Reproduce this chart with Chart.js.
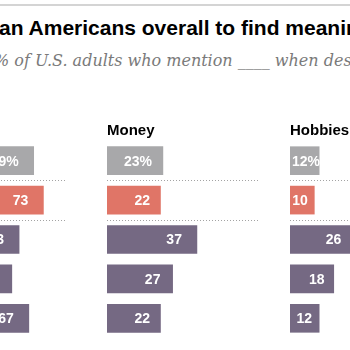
<!DOCTYPE html>
<html>
<head>
<meta charset="utf-8">
<script src="https://cdn.jsdelivr.net/npm/chart.js@4.4.1/dist/chart.umd.min.js"></script>
<style>
  html, body { margin: 0; padding: 0; background: #fff; }
  body { width: 350px; height: 350px; overflow: hidden; position: relative; }
  .rule { position: absolute; left: 0; top: 4px; width: 350px; border-top: 2px solid #d4d4d4; }
  .title { position: absolute; left: -1px; top: 16px; white-space: nowrap;
           font: bold 21px "Liberation Sans", Arial, sans-serif; color: #000; }
  .sub { position: absolute; left: -6px; top: 51px; white-space: nowrap;
         font: italic 16px "DejaVu Serif", Georgia, serif; color: #7a7a7a; }
  canvas { position: absolute; top: 115px; }
</style>
</head>
<body>
<div class="rule"></div>
<div class="title">an Americans overall to find meaning in</div>
<div class="sub">% of U.S. adults who mention ____ when describing</div>
<canvas id="family" width="200" height="223" style="left:-134px"></canvas>
<canvas id="money" width="152" height="223" style="left:107px"></canvas>
<canvas id="hobbies" width="160" height="223" style="left:290px"></canvas>
<script>
const rows = ['U.S. adults', 'Group', 'Subgroup A', 'Subgroup B', 'Subgroup C'];
const family = [69, 73, 63, 60, 67];
const money = [23, 22, 37, 27, 22];
const hobbies = [12, 10, 26, 18, 12];
const rowColors = ['#a8a8aa', '#e07567', '#756983', '#756983', '#756983'];

const FONT = '"Liberation Sans", Arial, sans-serif';

// heading, dotted separators and the white value labels
const panelDecor = {
  id: 'panelDecor',
  afterDatasetsDraw(chart, args, opts) {
    const { ctx, chartArea: a, scales: { y } } = chart;
    ctx.save();
    ctx.fillStyle = '#000';
    ctx.font = 'bold 15px ' + FONT;
    ctx.textAlign = 'left';
    ctx.textBaseline = 'alphabetic';
    ctx.fillText(opts.heading, a.left, a.top - 6);

    ctx.strokeStyle = '#a3a3a3';
    ctx.lineWidth = 1;
    ctx.setLineDash([1, 2]);
    [0, 1].forEach(i => {
      const yy = Math.round((y.getPixelForValue(i) + y.getPixelForValue(i + 1)) / 2) + 0.5;
      ctx.beginPath();
      ctx.moveTo(a.left, yy);
      ctx.lineTo(a.right, yy);
      ctx.stroke();
    });
    ctx.setLineDash([]);

    ctx.fillStyle = '#fff';
    ctx.font = 'bold 14px ' + FONT;
    ctx.textAlign = 'right';
    ctx.textBaseline = 'middle';
    const vals = chart.data.datasets[0].data;
    chart.getDatasetMeta(0).data.forEach((bar, i) => {
      const txt = i === 0 ? vals[i] + '%' : String(vals[i]);
      const w = bar.x - bar.base;
      const tw = ctx.measureText(txt).width;
      const pad = Math.min(15, 3 + 0.14 * w);
      const xr = Math.max(bar.x - pad, bar.base + 2 + tw);
      ctx.fillText(txt, xr, bar.y + 1);
    });
    ctx.restore();
  }
};

function panel(id, heading, values, max) {
  new Chart(document.getElementById(id), {
    type: 'bar',
    data: {
      labels: rows,
      datasets: [{ data: values, backgroundColor: rowColors, barThickness: 28 }]
    },
    options: {
      indexAxis: 'y',
      responsive: false,
      animation: false,
      layout: { padding: { top: 26 } },
      scales: {
        x: { display: false, min: 0, max: max },
        y: { display: false }
      },
      plugins: {
        legend: { display: false },
        tooltip: { enabled: false },
        panelDecor: { heading: heading }
      }
    },
    plugins: [panelDecor]
  });
}

panel('family', 'Family', family, 82.3);
panel('money', 'Money', money, 62.55);
panel('hobbies', 'Hobbies', hobbies, 65.84);
</script>
</body>
</html>
